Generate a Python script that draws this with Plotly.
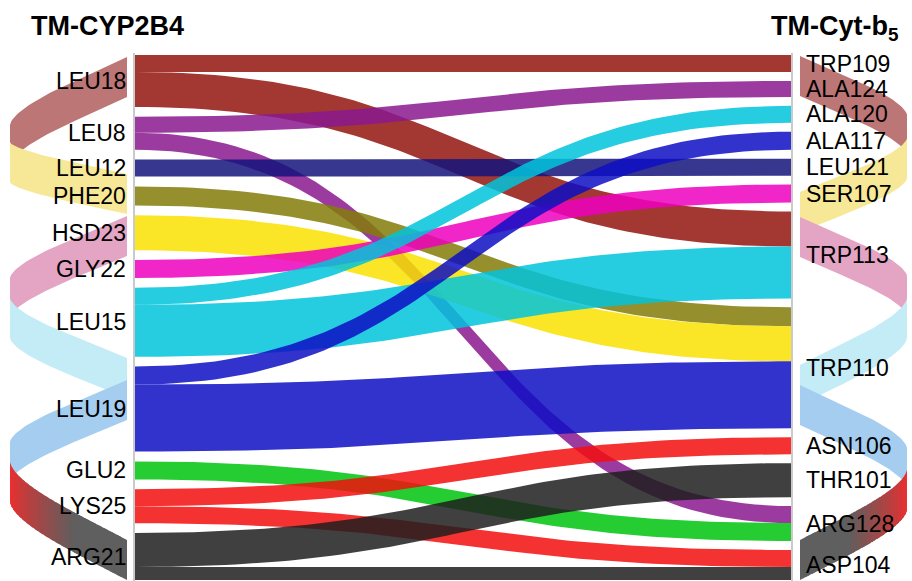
import numpy as np
import plotly.graph_objects as go

# ---------------- data ----------------
left_nodes = ["LEU18", "LEU8", "LEU12", "PHE20", "HSD23", "GLY22",
              "LEU15", "LEU19", "GLU2", "LYS25", "ARG21"]
right_nodes = ["TRP109", "ALA124", "ALA120", "ALA117", "LEU121", "SER107",
               "TRP113", "TRP110", "ASN106", "THR101", "ARG128", "ASP104"]
link_source = ["LEU18", "LEU18", "LEU8", "LEU8", "LEU12", "PHE20", "HSD23",
               "GLY22", "LEU15", "LEU15", "LEU19", "LEU19", "GLU2", "LYS25",
               "LYS25", "ARG21", "ARG21"]
link_target = ["TRP109", "TRP113", "ALA124", "ARG128", "LEU121", "TRP110",
               "TRP110", "SER107", "ALA120", "TRP113", "ALA117", "TRP110",
               "ARG128", "ASN106", "ASP104", "THR101", "ASP104"]
link_value = [17, 35, 16, 17, 17, 19, 35, 18, 17, 52, 18, 67, 18, 17, 17, 34, 13]

title_left = "TM-CYP2B4"
title_right = "TM-Cyt-b<sub>5</sub>"

# ---------------- styles ----------------
source_color = {
    "LEU18": (147, 20, 14), "LEU8": (137, 25, 143), "LEU12": (20, 20, 125),
    "PHE20": (131, 125, 8), "HSD23": (249, 226, 0), "GLY22": (237, 0, 190),
    "LEU15": (0, 196, 220), "LEU19": (14, 14, 196), "GLU2": (0, 196, 14),
    "LYS25": (243, 14, 14), "ARG21": (31, 31, 31),
}
LINK_ALPHA = 0.85
FONT = "Liberation Sans, Arial, sans-serif"

W, H = 912, 581
Y_TOP, Y_BOT = 55, 580
X0, X1 = 135, 791          # ribbon ends
LINE_L, LINE_R = 134, 792  # thin node edge lines
SCALE = 1.0                # px per unit

# helix decoration arms: (color(s), y at inner end, y at tip)
DECOR_H = 40
DECOR_P = 0.8
left_decor = dict(x_inner=127, x_tip=10, arms=[
    ((188, 118, 118), None, 77, 145),
    ((246, 232, 150), None, 194, 162),
    ((228, 164, 195), None, 236, 298),
    ((196, 236, 246), None, 378, 318),
    ((165, 205, 240), None, 400, 462),
    ((240, 45, 45), (95, 95, 95), 560, 482),
])
right_decor = dict(x_inner=800, x_tip=907, arms=[
    ((188, 118, 118), None, 76, 135),
    ((246, 232, 150), None, 212, 158),
    ((228, 164, 195), None, 237, 296),
    ((196, 236, 246), None, 385, 318),
    ((165, 205, 240), None, 405, 468),
    ((240, 45, 45), (95, 95, 95), 560, 490),
])

# ---------------- layout computation ----------------
def node_totals(nodes, key_list):
    return {n: sum(v for k, v in zip(key_list, link_value) if k == n) for n in nodes}

lt = node_totals(left_nodes, link_source)
rt = node_totals(right_nodes, link_target)

def node_tops(nodes, totals):
    span = Y_BOT - Y_TOP
    total = sum(totals[n] for n in nodes) * SCALE
    gap = (span - total) / (len(nodes) - 1)
    tops, y = {}, Y_TOP
    for n in nodes:
        tops[n] = y
        y += totals[n] * SCALE + gap
    return tops

ltop = node_tops(left_nodes, lt)
rtop = node_tops(right_nodes, rt)

idx = list(range(len(link_value)))
src_off = {}
for n in left_nodes:
    y = ltop[n]
    for i in sorted([i for i in idx if link_source[i] == n],
                    key=lambda i: right_nodes.index(link_target[i])):
        src_off[i] = y
        y += link_value[i] * SCALE
tgt_off = {}
for n in right_nodes:
    y = rtop[n]
    for i in sorted([i for i in idx if link_target[i] == n],
                    key=lambda i: left_nodes.index(link_source[i])):
        tgt_off[i] = y
        y += link_value[i] * SCALE

fig = go.Figure()

# ---------------- decoration ----------------
def add_decor(dec):
    xi, xt = dec["x_inner"], dec["x_tip"]
    for c0, c1, yi, ytip in dec["arms"]:
        if c1 is None:
            segs = [(0.0, 1.0, c0)]
        else:
            segs = []
            n = 24
            for k in range(n):
                a, b = k / n, (k + 1) / n
                m = (a + b) / 2  # m: 0 at inner, 1 at tip
                f = min(1.0, max(0.0, (1 - m) / 0.65))
                f = f ** 1.2
                col = tuple(int(c0[j] + (c1[j] - c0[j]) * f) for j in range(3))
                segs.append((a, b + 0.03, col))
        for a, b, col in segs:
            s = np.linspace(a, min(b, 1.0), 40)
            x = xt + (xi - xt) * np.clip(1 - np.sin(np.pi / 2 * s), 0, 1) ** DECOR_P
            y = yi + (ytip - yi) * s
            xs = np.concatenate([x, x[::-1]])
            ys = np.concatenate([y - DECOR_H / 2, (y + DECOR_H / 2)[::-1]])
            fig.add_trace(go.Scatter(
                x=xs, y=ys, mode="lines", fill="toself",
                fillcolor="rgb(%d,%d,%d)" % col, line=dict(width=0),
                hoverinfo="skip", showlegend=False))

add_decor(left_decor)
add_decor(right_decor)

# ---------------- ribbons ----------------
t = np.linspace(0, 1, 80)
xm = (X0 + X1) / 2
bx = (1 - t) ** 3 * X0 + 3 * (1 - t) ** 2 * t * xm + 3 * (1 - t) * t ** 2 * xm + t ** 3 * X1
hb = (1 - t) ** 3 + 3 * (1 - t) ** 2 * t  # weight on source y
for i in idx:
    ys0, yt0 = src_off[i], tgt_off[i]
    w = link_value[i] * SCALE
    ytop = hb * ys0 + (1 - hb) * yt0
    xs = np.concatenate([bx, bx[::-1]])
    ys = np.concatenate([ytop, (ytop + w)[::-1]])
    c = source_color[link_source[i]]
    fig.add_trace(go.Scatter(
        x=xs, y=ys, mode="lines", fill="toself",
        fillcolor="rgba(%d,%d,%d,%.2f)" % (c + (LINK_ALPHA,)),
        line=dict(width=0), hoverinfo="skip", showlegend=False))

# edge lines
for xl in (LINE_L, LINE_R):
    fig.add_shape(type="line", x0=xl, x1=xl, y0=Y_TOP - 2, y1=H,
                  xref="x", yref="y", line=dict(color="rgb(185,185,185)", width=1.5))

# ---------------- labels ----------------
for n in left_nodes:
    fig.add_annotation(x=128, y=ltop[n] + lt[n] * SCALE / 2, text=n,
                       xanchor="right", yanchor="middle", showarrow=False,
                       font=dict(family=FONT, size=23, color="black"))
for n in right_nodes:
    fig.add_annotation(x=804, y=rtop[n] + rt[n] * SCALE / 2, text=n,
                       xanchor="left", yanchor="middle", showarrow=False,
                       font=dict(family=FONT, size=23, color="black"))

fig.add_annotation(x=107, y=26, text="<b>%s</b>" % title_left, showarrow=False,
                   xanchor="center", yanchor="middle",
                   font=dict(family=FONT, size=27, color="black"))
fig.add_annotation(x=900, y=28, text="<b>%s</b>" % title_right, showarrow=False,
                   xanchor="right", yanchor="middle",
                   font=dict(family=FONT, size=27, color="black"))

fig.update_layout(
    width=W, height=H, margin=dict(l=0, r=0, t=0, b=0),
    paper_bgcolor="white", plot_bgcolor="white", showlegend=False,
    xaxis=dict(range=[0, W], visible=False, fixedrange=True),
    yaxis=dict(range=[H, 0], visible=False, fixedrange=True),
)
fig.write_html("out.html")
